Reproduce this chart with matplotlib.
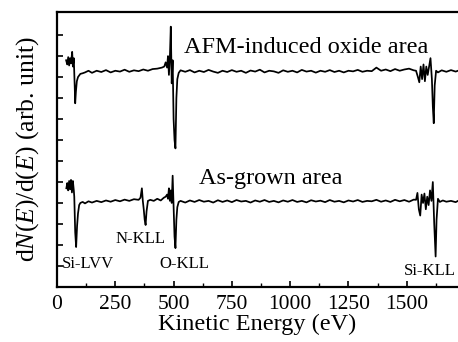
import matplotlib
matplotlib.use('Agg')
import matplotlib.pyplot as plt
from matplotlib.ticker import MultipleLocator

plt.rcParams['font.family'] = ['Liberation Serif', 'DejaVu Serif']
plt.rcParams['mathtext.fontset'] = 'custom'
plt.rcParams['mathtext.rm'] = 'Liberation Serif'
plt.rcParams['mathtext.it'] = 'Liberation Serif:italic'

# ---- AFM-induced oxide area (upper trace) ----
top_silvv_e = [39, 44, 48, 52, 56, 60, 65, 68, 72, 76, 78, 81, 85, 90, 100, 110, 120, 135, 150]
top_silvv_v = [10.8, 10.6, 10.95, 10.55, 10.9, 10.65, 11.2, 10.5, 10.9, 9.5, 8.75, 9.3, 9.8,
               10.0, 10.15, 10.18, 10.22, 10.3, 10.2]
top_base1_e = list(range(170, 451, 20))
top_base1_v = [10.3, 10.24, 10.33, 10.22, 10.3, 10.26, 10.35, 10.25, 10.32, 10.28, 10.36,
               10.3, 10.38, 10.4, 10.45]
top_okll_e = [460, 466, 472, 476, 480, 484, 488, 492, 496, 500, 504, 508, 512, 516, 522, 530]
top_okll_v = [10.5, 10.7, 10.45, 11.0, 10.1, 10.9, 12.4, 9.7, 10.8, 8.0, 7.0, 6.6, 9.0, 9.9,
              10.2, 10.32]
top_base2_e = list(range(550, 1531, 20))
top_base2_v = [10.25, 10.33, 10.22, 10.3, 10.24, 10.34, 10.26, 10.2, 10.3, 10.24,
               10.33, 10.25, 10.3, 10.2, 10.31, 10.26, 10.35, 10.22, 10.3, 10.27,
               10.2, 10.32, 10.25, 10.3, 10.22, 10.34, 10.26, 10.3, 10.21, 10.3,
               10.25, 10.33, 10.24, 10.3, 10.22, 10.3, 10.27, 10.34, 10.25, 10.3,
               10.28, 10.45, 10.3, 10.36, 10.28, 10.38, 10.3, 10.36, 10.4, 10.32]
top_sikll_e = [1540, 1548, 1554, 1560, 1566, 1572, 1578, 1584, 1590, 1596, 1602, 1608, 1612,
               1616, 1620, 1626, 1634]
top_sikll_v = [10.3, 10.0, 9.75, 10.5, 9.9, 10.6, 9.8, 10.5, 10.1, 10.5, 10.9, 9.9, 8.6, 7.8,
               9.6, 10.3, 10.22]
top_tail_e = [1650, 1670, 1690, 1710, 1720]
top_tail_v = [10.32, 10.25, 10.33, 10.26, 10.3]

# ---- As-grown area (lower trace) ----
bot_silvv_e = [40, 44, 48, 52, 56, 60, 64, 68, 72, 74, 78, 82, 86, 90, 95, 100, 110, 120, 135, 150]
bot_silvv_v = [4.7, 4.95, 4.6, 5.05, 4.65, 5.1, 4.5, 5.05, 4.6, 4.3, 2.6, 1.9, 2.9, 3.5, 3.9,
               4.0, 4.05, 3.98, 4.08, 4.02]
bot_base1_e = list(range(170, 351, 20))
bot_base1_v = [4.1, 4.04, 4.12, 4.06, 4.14, 4.08, 4.16, 4.1, 4.18, 4.15]
bot_nkll_e = [358, 364, 368, 372, 376, 380, 384, 390, 400, 415, 430, 445, 458]
bot_nkll_v = [4.25, 4.7, 4.1, 3.7, 3.2, 2.95, 3.6, 4.1, 4.15, 4.1, 4.2, 4.12, 4.25]
bot_okll_e = [466, 472, 476, 480, 484, 488, 492, 496, 500, 504, 508, 512, 516, 522, 530]
bot_okll_v = [4.3, 4.4, 4.2, 4.7, 4.1, 4.6, 4.0, 5.3, 3.8, 2.4, 1.85, 3.2, 3.8, 4.05, 4.1]
bot_base2_e = list(range(550, 1531, 20))
bot_base2_v = [4.02, 4.12, 4.05, 4.14, 4.06, 4.1, 4.02, 4.13, 4.05, 4.12,
               4.04, 4.14, 4.07, 4.1, 4.02, 4.12, 4.06, 4.14, 4.05, 4.1,
               4.03, 4.12, 4.06, 4.14, 4.05, 4.1, 4.03, 4.13, 4.07, 4.11,
               4.04, 4.14, 4.06, 4.1, 4.03, 4.12, 4.07, 4.14, 4.05, 4.1,
               4.08, 4.15, 4.06, 4.12, 4.05, 4.15, 4.08, 4.14, 4.06, 4.16]
bot_sikll_e = [1540, 1546, 1552, 1558, 1564, 1570, 1576, 1582, 1588, 1594, 1600, 1606, 1612,
               1618, 1624, 1628, 1634, 1642]
bot_sikll_v = [4.15, 4.48, 3.7, 3.4, 4.4, 4.0, 4.45, 3.7, 4.3, 3.9, 4.6, 4.1, 5.0, 3.0, 1.45,
               3.2, 4.2, 4.05]
bot_tail_e = [1655, 1670, 1690, 1710, 1720]
bot_tail_v = [4.12, 4.06, 4.1, 4.04, 4.1]

e_top = top_silvv_e + top_base1_e + top_okll_e + top_base2_e + top_sikll_e + top_tail_e
v_top = top_silvv_v + top_base1_v + top_okll_v + top_base2_v + top_sikll_v + top_tail_v
e_bot = bot_silvv_e + bot_base1_e + bot_nkll_e + bot_okll_e + bot_base2_e + bot_sikll_e + bot_tail_e
v_bot = bot_silvv_v + bot_base1_v + bot_nkll_v + bot_okll_v + bot_base2_v + bot_sikll_v + bot_tail_v

x_ticks = [0, 250, 500, 750, 1000, 1250, 1500]

fig = plt.figure(figsize=(4.58, 3.42), dpi=100)
ax = fig.add_axes([0.1245, 0.161, 0.8755, 0.804])

ax.plot(e_top, v_top, color='black', linewidth=1.25)
ax.plot(e_bot, v_bot, color='black', linewidth=1.25)

ax.set_xlim(0, 1720)
ax.set_ylim(0, 13.1)
ax.set_xticks(x_ticks)
ax.xaxis.set_minor_locator(MultipleLocator(125))
ax.set_yticks(range(1, 13))
ax.set_yticklabels([])
ax.tick_params(direction='in', length=4, width=1.2, labelsize=15.5)
ax.tick_params(which='minor', direction='in', length=3, width=1.0)
ax.tick_params(axis='x', pad=6)

for side in ['left', 'bottom', 'top']:
    ax.spines[side].set_linewidth(1.6)
ax.spines['right'].set_visible(False)

ax.set_xlabel('Kinetic Energy (eV)', fontsize=17.5, labelpad=0)
ax.set_ylabel('d$N$($E$)/d($E$) (arb. unit)', fontsize=18.5, labelpad=8)

ax.text(543, 11.43, 'AFM-induced oxide area', fontsize=17.5, va='center')
ax.text(608, 5.19, 'As-grown area', fontsize=17.5, va='center')
ax.text(22, 1.1, 'Si-LVV', fontsize=12, va='center')
ax.text(250, 2.3, 'N-KLL', fontsize=12, va='center')
ax.text(440, 1.1, 'O-KLL', fontsize=12, va='center')
ax.text(1487, 0.77, 'Si-KLL', fontsize=12, va='center')

fig.savefig('out.png', dpi=100)
